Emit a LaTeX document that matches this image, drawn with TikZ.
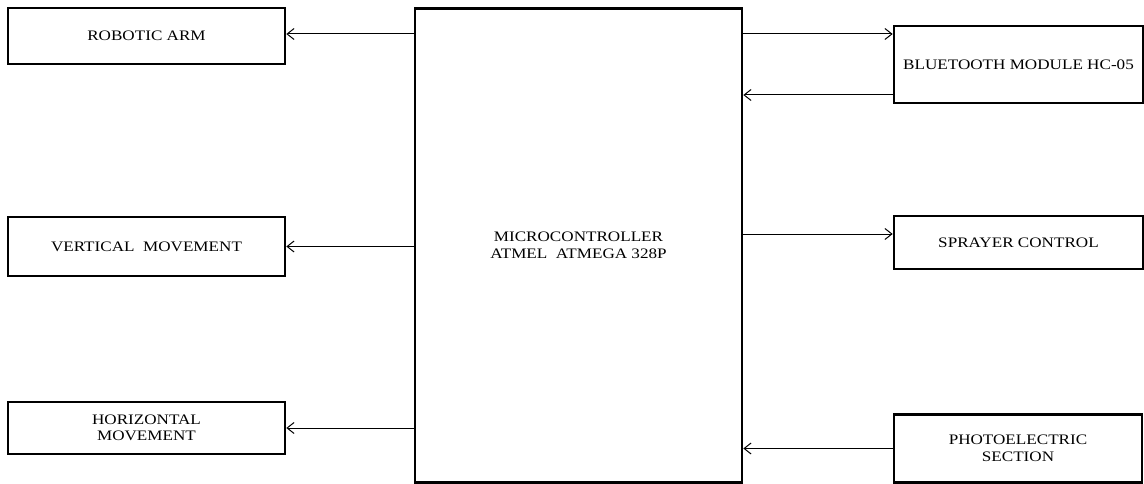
\documentclass[tikz,border=0pt]{standalone}
\usepackage{fontspec}
\setmainfont{Liberation Serif}[FakeStretch=1.18]
\usetikzlibrary{arrows.meta}
\begin{document}
\begin{tikzpicture}[x=1pt,y=-1pt,
  box/.style={draw, line width=2.6pt, rectangle, inner sep=0pt, align=center,
    font=\fontsize{14.5}{16.5}\selectfont},
  arr/.style={line width=1pt, -{Straight Barb[length=7pt,width=11pt,line width=1pt]}}]
\useasboundingbox (0,0) rectangle (1144,484);
\node[box, minimum width=277pt, minimum height=56pt] (ra) at (146.5,36) {ROBOTIC ARM};
\node[box, minimum width=277pt, minimum height=59pt] (vm) at (146.5,246.5) {VERTICAL\ \ MOVEMENT};
\node[box, minimum width=277pt, minimum height=52pt] (hm) at (146.5,428) {HORIZONTAL\\MOVEMENT};
\node[box, minimum width=327pt, minimum height=474pt] (mc) at (578.5,245.5) {MICROCONTROLLER\\ATMEL\ \ ATMEGA 328P};
\node[box, minimum width=249pt, minimum height=77pt] (bt) at (1018.5,64.5) {BLUETOOTH MODULE HC-05};
\node[box, minimum width=249pt, minimum height=53pt] (sp) at (1018.5,242.5) {SPRAYER CONTROL};
\node[box, minimum width=248pt, minimum height=68pt] (ph) at (1018,448.5) {PHOTOELECTRIC\\SECTION};
\draw[arr] (mc.west |- 0,34) -- (ra.east |- 0,34);
\draw[arr] (mc.west |- vm.east) -- (vm.east);
\draw[arr] (mc.west |- hm.east) -- (hm.east);
\draw[arr] (mc.east |- 0,34) -- (bt.west |- 0,34);
\draw[arr] (bt.west |- 0,95) -- (mc.east |- 0,95);
\draw[arr] (mc.east |- 0,234) -- (sp.west |- 0,234);
\draw[arr] (ph.west) -- (mc.east |- ph.west);
\end{tikzpicture}
\end{document}
